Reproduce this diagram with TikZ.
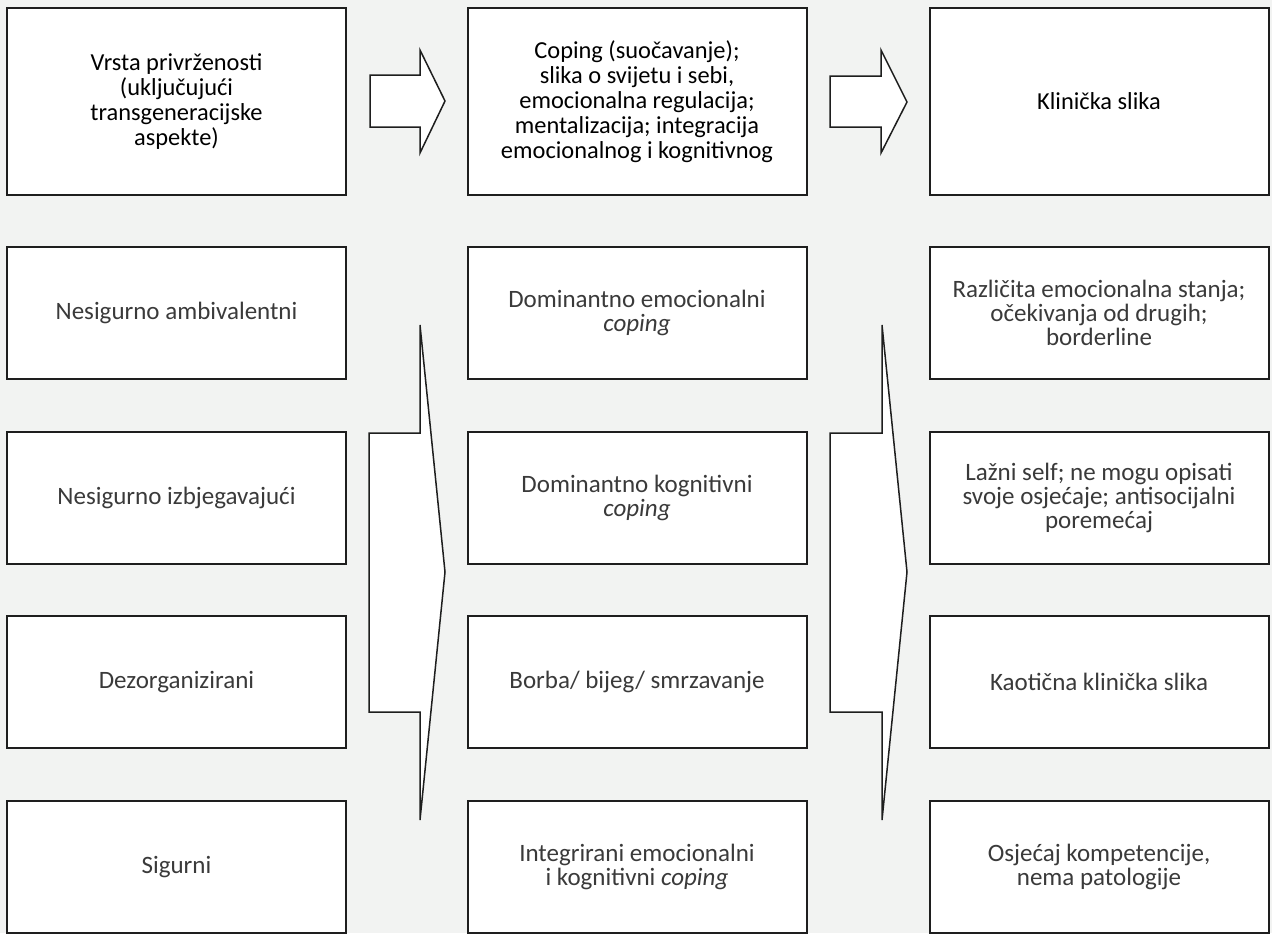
\documentclass[tikz,border=0pt]{standalone}
\usepackage{fontspec}
\setmainfont{Carlito}
\usepackage{tikz}
\definecolor{figbg}{HTML}{F2F3F2}
\definecolor{figink}{HTML}{1E1E1E}
\definecolor{figtext}{HTML}{3A3A3A}
\tikzset{
  headbox/.style={draw=figink,fill=white,line width=1pt,minimum width=169.5pt,minimum height=93.5pt,
    inner sep=0pt,align=center,font=\fontsize{12.2}{12.5}\selectfont},
  rowbox/.style={draw=figink,fill=white,line width=1pt,minimum width=169.5pt,minimum height=66pt,
    inner sep=0pt,align=center,text=figtext,font=\fontsize{12.5}{12}\selectfont},
  blockarrow/.style={draw=figink,fill=white,line width=0.75pt,line join=miter}
}

\begin{document}
\begin{tikzpicture}[x=0.5pt,y=-0.5pt]
    \fill[figbg] (0,0) rectangle (1272,933);
    \useasboundingbox (0,0) rectangle (1272,933);
    % block arrows first, the big right one runs under the middle column
    \draw[blockarrow] (370,75) -- (420,75) -- (420,50) -- (445,101) -- (420,153) -- (420,127) -- (370,127) -- cycle;
    \draw[blockarrow] (830,76) -- (881,76) -- (881,50) -- (907,102) -- (881,153) -- (881,127) -- (830,127) -- cycle;
    \draw[blockarrow] (369,433) -- (420,433) -- (420,325) -- (445,572) -- (420,820) -- (420,712) -- (369,712) -- cycle;
    \draw[blockarrow] (830,433) -- (882,433) -- (882,325) -- (907,572) -- (882,820) -- (882,712) -- (830,712) -- cycle;
    % header row
    \node[headbox] (kind) at (176.5,101.5) {Vrsta privrženosti\\(uključujući\\transgeneracijske\\aspekte)};
    \node[headbox] (cope) at (637,101.5) {Coping (suočavanje);\\slika o svijetu i sebi,\\emocionalna regulacija;\\mentalizacija; integracija\\emocionalnog i kognitivnog};
    \node[headbox] (clin) at (1099,101.5) {Klinička slika};
    % one row per attachment style
    \foreach \r/\y/\ka/\co/\cl in {
        1/313/{Nesigurno ambivalentni}/{Dominantno emocionalni\\\textit{coping}}/{Različita emocionalna stanja;\\očekivanja od drugih;\\borderline},
        2/498/{Nesigurno izbjegavajući}/{Dominantno kognitivni\\\textit{coping}}/{Lažni self; ne mogu opisati\\svoje osjećaje; antisocijalni\\poremećaj},
        3/682/{Dezorganizirani}/{Borba/ bijeg/ smrzavanje}/{Kaotična klinička slika},
        4/867/{Sigurni}/{Integrirani emocionalni\\i kognitivni \textit{coping}}/{Osjećaj kompetencije,\\nema patologije}} {
      \node[rowbox] (kind\r) at (176.5,\y) {\ka};
      \node[rowbox] (cope\r) at (637,\y) {\co};
      \node[rowbox] (clin\r) at (1099,\y) {\cl};
    }
\end{tikzpicture}
\end{document}
